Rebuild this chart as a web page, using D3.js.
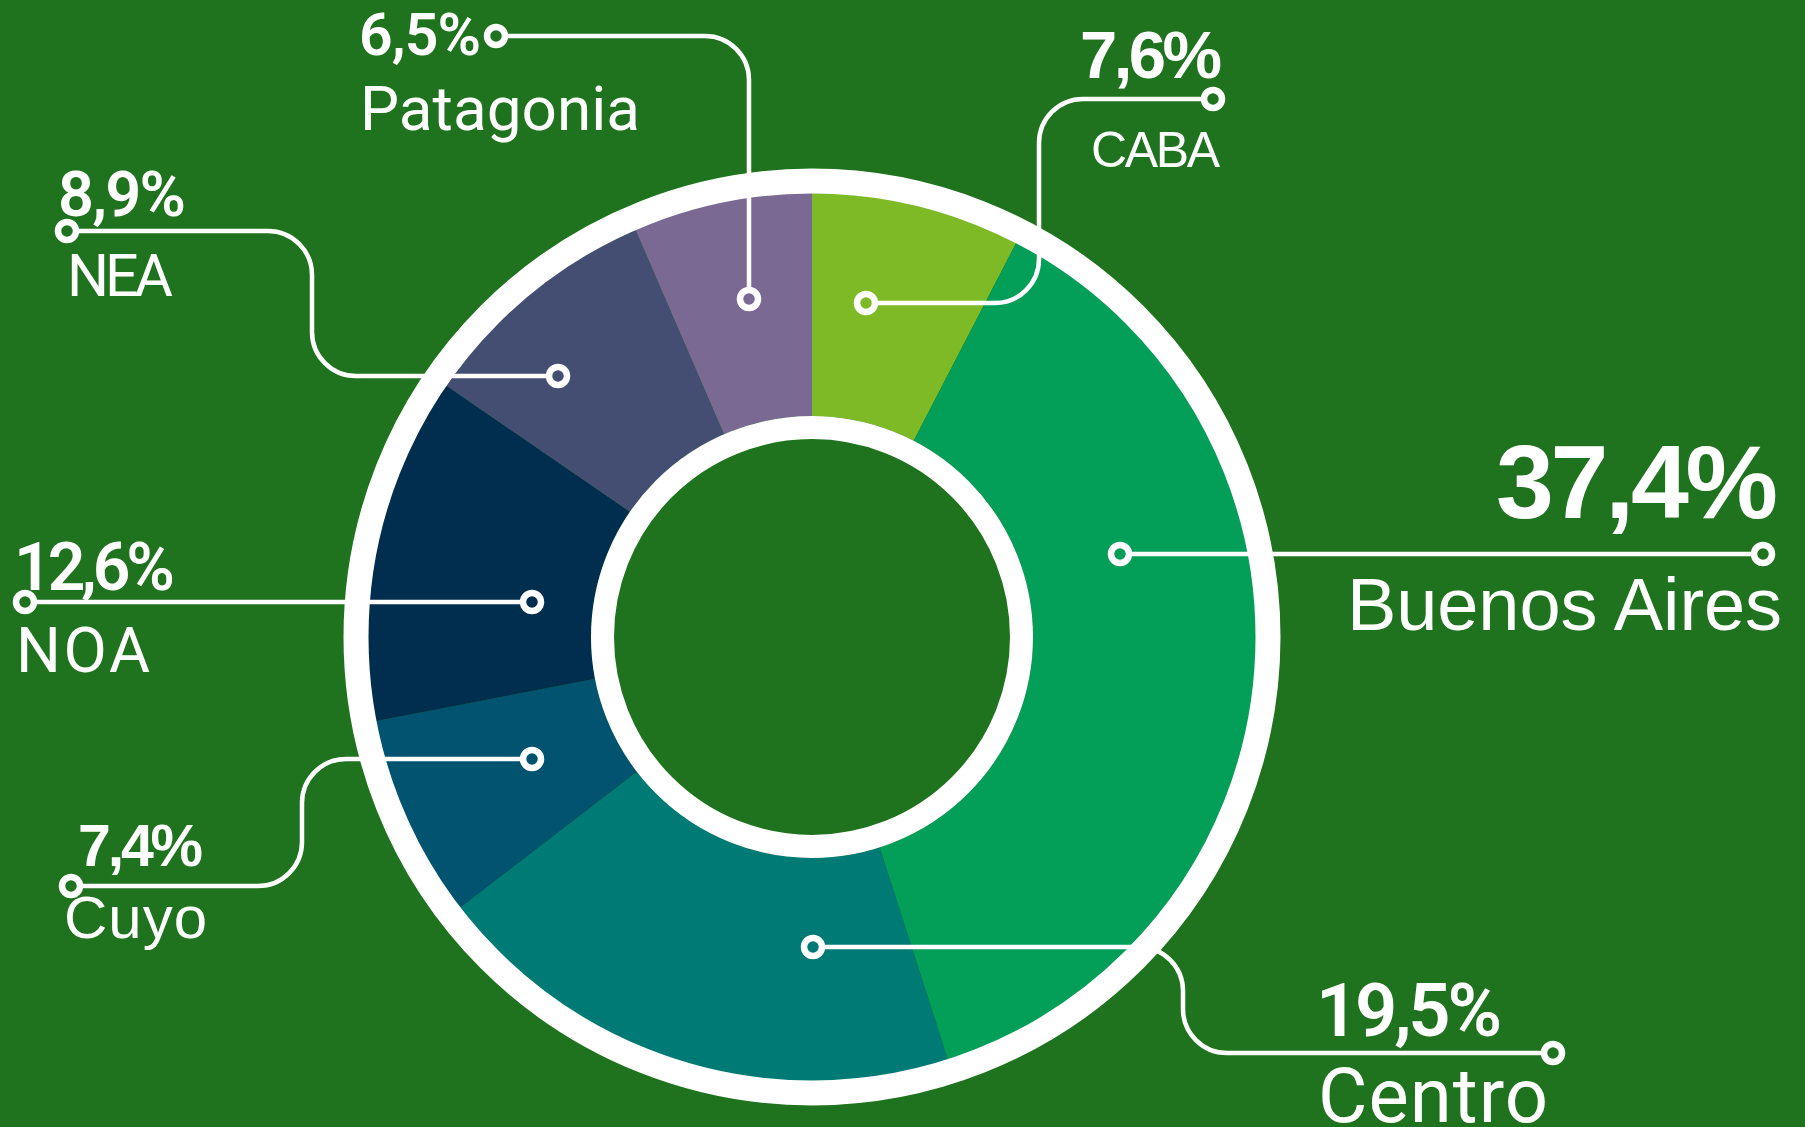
<!DOCTYPE html>
<html>
<head>
<meta charset="utf-8">
<script src="https://cdn.jsdelivr.net/npm/d3@7"></script>
<style>
  html, body { margin: 0; padding: 0; background: #1f731e; }
  svg { display: block; }
</style>
</head>
<body>
<div id="chart"></div>
<script>
// data
const categories = ["CABA", "Buenos Aires", "Centro", "Cuyo", "NOA", "NEA", "Patagonia"];
const values = [7.6, 37.4, 19.5, 7.4, 12.6, 8.9, 6.5];
const colors = ["#7dba26", "#039e58", "#007a74", "#01536f", "#012e4e", "#444e72", "#7a6a93"];

let w = 1805;
let h = 1127;
const bg = "#1f731e";
const cx = 812, cy = 637;
const fontP = "Roboto, 'Open Sans', sans-serif";
const fontA = "'Liberation Sans', Arial, sans-serif";

// callout layout, one per category (same order)
const callouts = [
    { pts: [[866,303],[1039,303],[1039,99],[1213,99]],
      pct: {x:1080, y:78, size:67, w:142, font:fontA, wt:700},
      name:{x:1091, y:167, size:50, w:129, font:fontA, wt:400} },
    { pts: [[1120,554],[1763,554]],
      pct: {x:1496, y:518, size:104, w:282, font:fontA, wt:700},
      name:{x:1347, y:630, size:74, w:435, font:fontA, wt:400} },
    { pts: [[813,947],[1183,947],[1183,1053],[1553,1053]],
      pct: {x:1316, y:1036, size:74, w:186, font:fontP, wt:600},
      name:{x:1318, y:1122, size:76, w:230, font:fontP, wt:400} },
    { pts: [[532,759],[302,759],[302,886],[71,886]],
      pct: {x:78, y:866, size:59, w:125, font:fontA, wt:700},
      name:{x:64, y:938, size:60, w:143, font:fontA, wt:400} },
    { pts: [[532,602],[25,602]],
      pct: {x:14, y:590, size:66, w:161, font:fontP, wt:600},
      name:{x:16, y:672, size:63, w:134, font:fontP, wt:400} },
    { pts: [[558,376],[312,376],[312,231],[67,231]],
      pct: {x:58, y:216, size:63, w:128, font:fontP, wt:600},
      name:{x:67, y:296, size:59, w:106, font:fontP, wt:400} },
    { pts: [[749,299],[749,36],[496,36]],
      pct: {x:359, y:55, size:59, w:122, font:fontP, wt:600},
      name:{x:360, y:130, size:62, w:280, font:fontP, wt:400} }
];

let svg = d3.select("#chart")
    .append("svg")
    .attr("width", w)
    .attr("height", h)
    .style("background", bg);

const g = svg.append("g").attr("transform", `translate(${cx},${cy})`);

let pie = d3.pie().sort(null).value(d => d);
let arc = d3.arc().innerRadius(221).outerRadius(444);

const arcs = pie(values);

g.selectAll("path.slice")
    .data(arcs)
    .enter()
    .append("path")
    .attr("class", "slice")
    .attr("d", arc)
    .attr("fill", (d, i) => colors[i]);

// white rings
g.append("circle").attr("r", 456).attr("fill", "none").attr("stroke", "#fff").attr("stroke-width", 25);
g.append("circle").attr("r", 209.5).attr("fill", "none").attr("stroke", "#fff").attr("stroke-width", 23);

// leader lines with rounded corners
function leader(pts) {
    const p = d3.path();
    p.moveTo(pts[0][0], pts[0][1]);
    for (let i = 1; i < pts.length - 1; i++) {
        p.arcTo(pts[i][0], pts[i][1], pts[i+1][0], pts[i+1][1], 44);
    }
    const last = pts[pts.length - 1];
    p.lineTo(last[0], last[1]);
    return p.toString();
}

svg.selectAll("path.leader")
    .data(callouts)
    .enter()
    .append("path")
    .attr("class", "leader")
    .attr("d", d => leader(d.pts))
    .attr("fill", "none")
    .attr("stroke", "#fff")
    .attr("stroke-width", 4.5);

// markers: inner end sits on the slice, outer end on the background
svg.selectAll("circle.inner")
    .data(callouts)
    .enter()
    .append("circle")
    .attr("cx", d => d.pts[0][0])
    .attr("cy", d => d.pts[0][1])
    .attr("r", 9)
    .attr("fill", (d, i) => colors[i])
    .attr("stroke", "#fff")
    .attr("stroke-width", 6.5);

svg.selectAll("circle.outer")
    .data(callouts)
    .enter()
    .append("circle")
    .attr("cx", d => d.pts[d.pts.length-1][0])
    .attr("cy", d => d.pts[d.pts.length-1][1])
    .attr("r", 9)
    .attr("fill", bg)
    .attr("stroke", "#fff")
    .attr("stroke-width", 6.5);

const fmt = v => v.toFixed(1).replace(".", ",") + "%";

function addText(t, s) {
    svg.append("text")
        .attr("x", s.x)
        .attr("y", s.y)
        .attr("font-family", s.font)
        .attr("font-weight", s.wt)
        .attr("font-size", s.size)
        .attr("fill", "#fff")
        .attr("textLength", s.w)
        .attr("lengthAdjust", "spacing")
        .text(t);
}

callouts.forEach((c, i) => {
    addText(fmt(values[i]), c.pct);
    addText(categories[i], c.name);
});
</script>
</body>
</html>
